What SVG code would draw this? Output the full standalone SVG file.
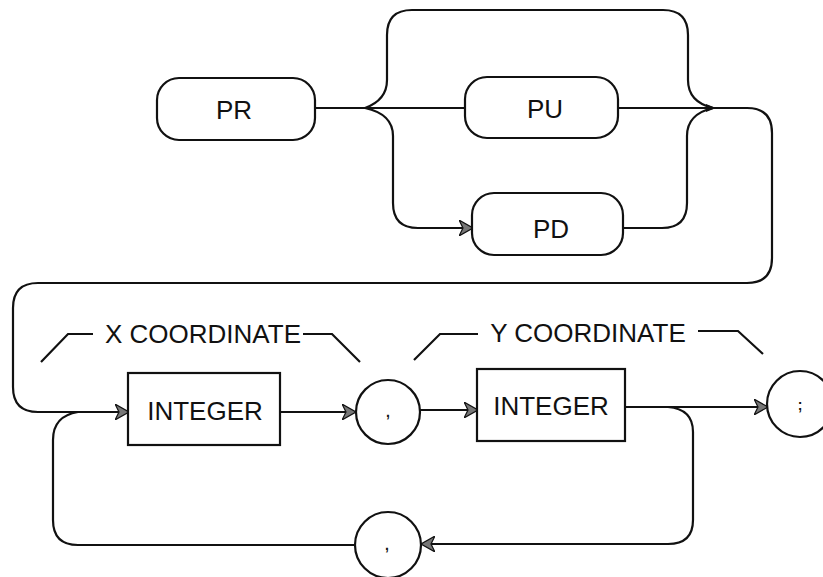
<svg xmlns="http://www.w3.org/2000/svg" width="823" height="577" viewBox="0 0 823 577">
<style>
.box{fill:#fff;stroke:#111;stroke-width:2.2}
.ln{fill:none;stroke:#111;stroke-width:2.2}
.t{font-family:"Liberation Sans",Arial,sans-serif;font-size:26px;fill:#111;text-anchor:middle}
.s{font-family:"Liberation Sans",Arial,sans-serif;font-size:14px;font-weight:bold;fill:#111;text-anchor:middle}
</style>
<defs>
<marker id="arr" viewBox="0 0 14 16" refX="13" refY="8" markerWidth="14" markerHeight="16" orient="auto" markerUnits="userSpaceOnUse">
<path d="M0,0 L14,8 L0,16 L4,8 Z" fill="#777" stroke="#111" stroke-width="1.2"/>
</marker>
<marker id="sm" viewBox="0 0 10 10" refX="9" refY="5" markerWidth="10" markerHeight="10" orient="auto" markerUnits="userSpaceOnUse">
<path d="M0,1 L10,5 L0,9 Z" fill="#111"/>
</marker>
</defs>
<g id="connectors">
<path class="ln" d="M315,108 H465"/>
<path class="ln" d="M365,108 Q387,100 387,80 V35 Q387,10 412,10 H663 Q688,10 688,35 V80 Q688,102 713,108"/>
<path class="ln" d="M365,108 Q393,114 393,136 V203 Q393,228 418,228 H472" marker-end="url(#arr)"/>
<path class="ln" d="M618,108 H715" marker-end="url(#sm)"/>
<path class="ln" d="M623,228 H662 Q687,228 687,203 V136 Q687,114 713,108"/>
<path class="ln" d="M713,108 H747 Q772,108 772,133 V258 Q772,283 747,283 H38 Q13,283 13,308 V387 Q13,412 38,412 H128" marker-end="url(#arr)"/>
<path class="ln" d="M280,412 H355" marker-end="url(#arr)"/>
<path class="ln" d="M420,410 H477" marker-end="url(#arr)"/>
<path class="ln" d="M625,407 H767" marker-end="url(#arr)"/>
<path class="ln" d="M668,407 Q693,409 693,432 V520 Q693,544 668,544 H422" marker-end="url(#arr)"/>
<path class="ln" d="M355,545 H78 Q53,545 53,520 V440 Q53,416 78,412"/>
<path class="ln" d="M41,362 L68,334 H93"/>
<path class="ln" d="M303,334 H332 L360,362"/>
<path class="ln" d="M414,360 L440,334 H478"/>
<path class="ln" d="M698,331 H738 L763,354"/>
</g>
<g id="node-pr"><rect class="box" x="157" y="78" width="158" height="62" rx="22"/><text class="t" x="234" y="119">PR</text></g>
<g id="node-pu"><rect class="box" x="465" y="77" width="153" height="61" rx="22"/><text class="t" x="545" y="118">PU</text></g>
<g id="node-pd"><rect class="box" x="472" y="193" width="151" height="62" rx="22"/><text class="t" x="551" y="238">PD</text></g>
<g id="node-int1"><rect class="box" x="128" y="373" width="152" height="72"/><text class="t" x="205" y="420">INTEGER</text></g>
<g id="node-comma1"><circle class="box" cx="388" cy="412" r="32"/><text class="s" x="388" y="417">,</text></g>
<g id="node-int2"><rect class="box" x="477" y="369" width="148" height="72"/><text class="t" x="551" y="415">INTEGER</text></g>
<g id="node-semi"><circle class="box" cx="800" cy="404" r="33"/><text class="s" x="800" y="410">;</text></g>
<g id="node-comma2"><circle class="box" cx="388" cy="545" r="33"/><text class="s" x="387" y="550">,</text></g>
<g id="labels">
<text class="t" x="203" y="343">X COORDINATE</text>
<text class="t" x="588" y="342">Y COORDINATE</text>
</g>
</svg>
